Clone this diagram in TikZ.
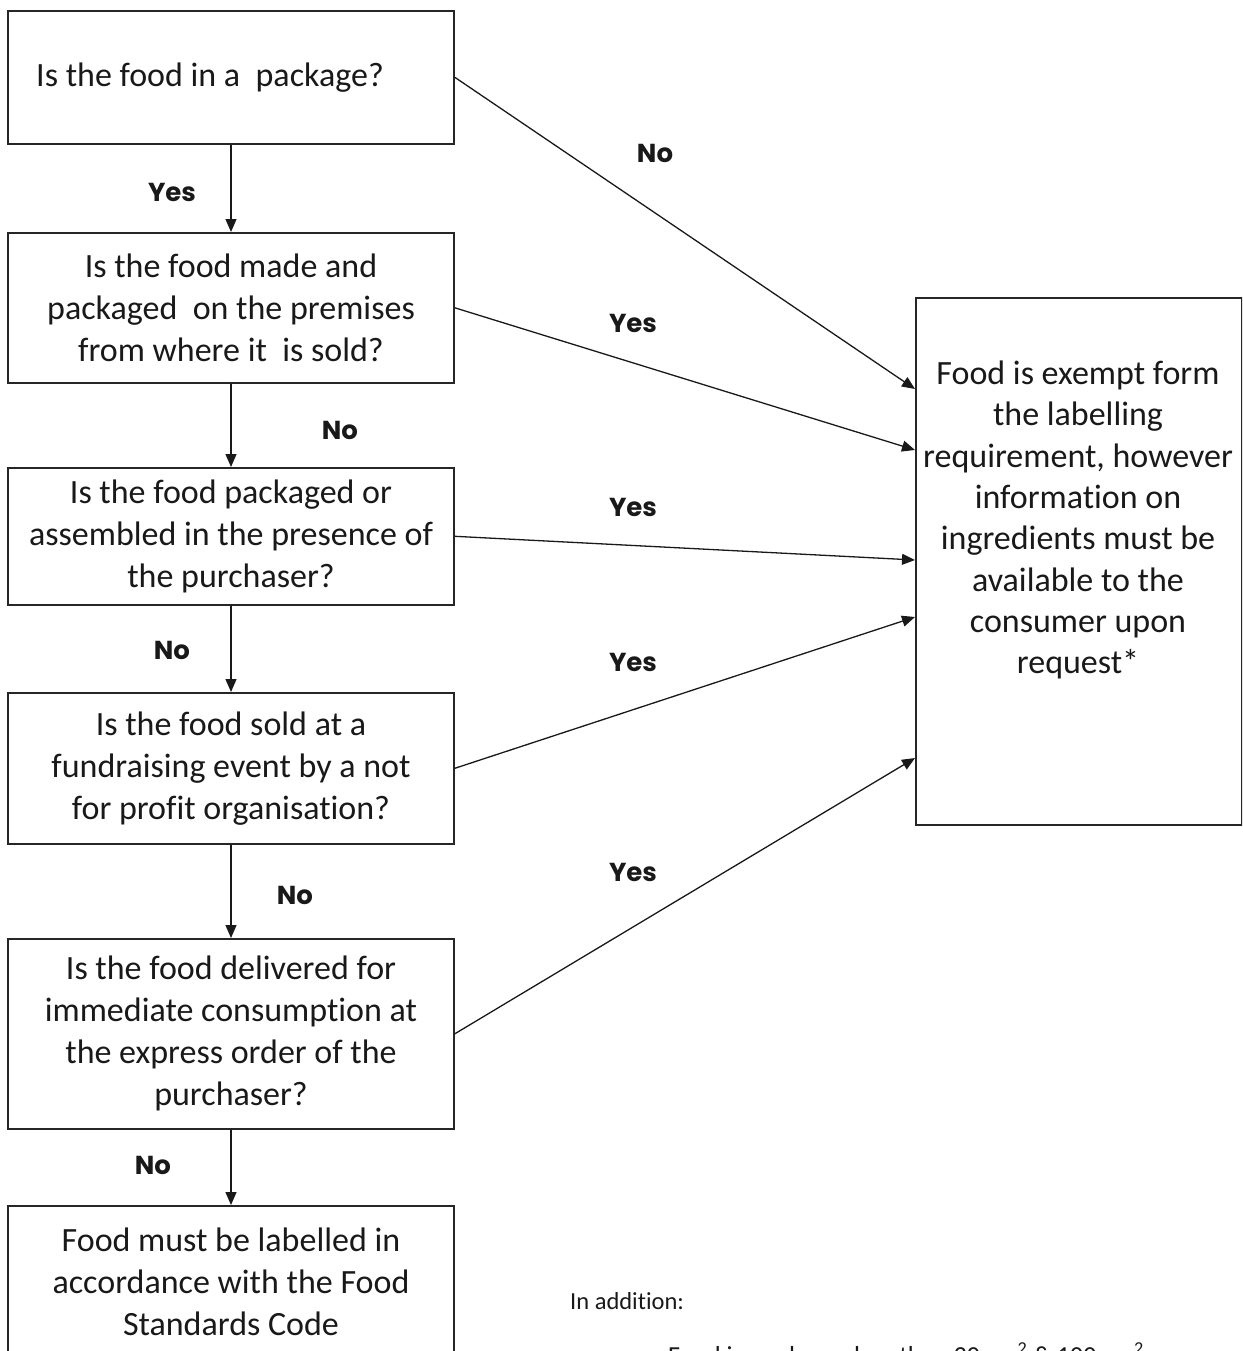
\documentclass[tikz,border=0pt]{standalone}
\usepackage{fontspec}
\setmainfont{Carlito}[Ligatures=NoCommon]
\newfontfamily\labfont{Poppins}
\usetikzlibrary{arrows.meta}
\begin{document}
\begin{tikzpicture}[x=1pt,y=-1pt,
  box/.style={draw=black!85, line width=1.6pt, minimum width=446pt, inner sep=0pt,
    align=center, font=\fontsize{34}{42}\selectfont, text=black!90},
  lab/.style={font=\labfont\bfseries\fontsize{26}{30}\selectfont, text=black!90},
  arr/.style={draw=black!90, line width=1.3pt, -{Triangle[length=13pt,width=11pt]}},
  plain/.style={text=black!90, inner sep=0pt}]
\useasboundingbox (0,0) rectangle (1242,1351);
\clip (0,0) rectangle (1242,1351);
% left column
\node[box, minimum height=133pt, anchor=north] (b1) at (231,10)
  {\hspace*{-42pt}Is the food in a\ \ package?};
\node[box, minimum height=150pt, anchor=north] (b2) at (231,232)
  {Is the food made and\\packaged\ \ on the premises\\from where it\ \ is sold?};
\node[box, minimum height=137pt, anchor=north] (b3) at (231,467)
  {Is the food packaged or\\assembled in the presence of\\the purchaser?};
\node[box, minimum height=151pt, anchor=north] (b4) at (231,692)
  {Is the food sold at a\\fundraising event by a not\\for profit organisation?};
\node[box, minimum height=190pt, anchor=north] (b5) at (231,938)
  {Is the food delivered for\\immediate consumption at\\the express order of the\\purchaser?};
\node[box, minimum height=152pt, anchor=north] (b6) at (231,1205)
  {Food must be labelled in\\accordance with the Food\\Standards Code};
% right box
\node[draw=black!85, line width=1.6pt, minimum width=326pt, minimum height=527pt,
  inner sep=0pt, anchor=north west] (ex) at (915,297) {};
\node[plain, align=center, font=\fontsize{34}{41.3}\selectfont] (extxt) at (1078,520)
  {Food is exempt form\\the labelling\\requirement, however\\information on\\ingredients must be\\available to the\\consumer upon\\request*};
% vertical arrows
\draw[arr] (b1.south) -- (b2.north);
\draw[arr] (b2.south) -- (b3.north);
\draw[arr] (b3.south) -- (b4.north);
\draw[arr] (b4.south) -- (b5.north);
\draw[arr] (b5.south) -- (b6.north);
% arrows to right box
\draw[arr] (b1.east) -- (ex.west |- 0,389);
\draw[arr] (b2.east) -- (ex.west |- 0,450);
\draw[arr] (b3.east) -- (ex.west |- 0,560);
\draw[arr] (b4.east) -- (ex.west |- 0,617);
\draw[arr] (b5.east) -- (ex.west |- 0,758);
% labels
\node[lab] (l1) at (172,192) {Yes};
\node[lab] (l2) at (655,153) {No};
\node[lab] (l3) at (633,323) {Yes};
\node[lab] (l4) at (340,430) {No};
\node[lab] (l5) at (633,507) {Yes};
\node[lab] (l6) at (172,650) {No};
\node[lab] (l7) at (633,662) {Yes};
\node[lab] (l8) at (295,895) {No};
\node[lab] (l9) at (633,872) {Yes};
\node[lab] (l10) at (153,1165) {No};
% bottom text
\node[plain, anchor=base west, font=\fontsize{24.5}{29}\selectfont] (add) at (570,1309) {In addition:};
\node[plain, anchor=base west, font=\fontsize{26}{31}\selectfont] (note) at (668,1364)
  {Food in packages less than 30 cm\textsuperscript{2} \& 100 cm\textsuperscript{2}};
\end{tikzpicture}
\end{document}
